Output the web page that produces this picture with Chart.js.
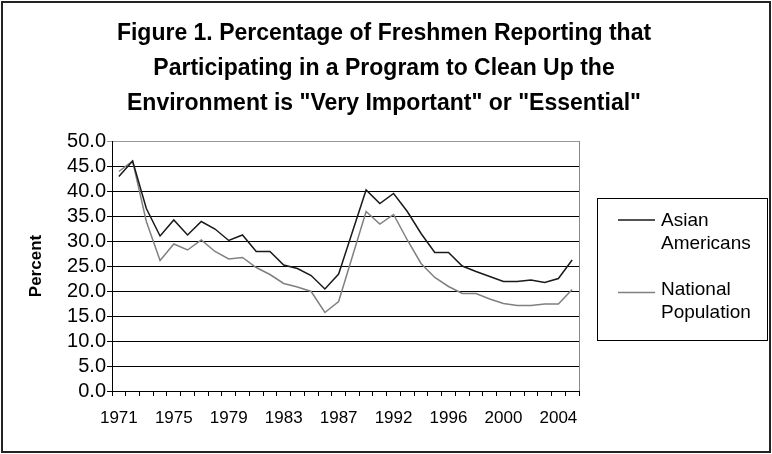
<!DOCTYPE html>
<html>
<head>
<meta charset="utf-8">
<script src="https://cdn.jsdelivr.net/npm/chart.js@4"></script>
<style>
  html, body { margin: 0; padding: 0; background: #fff; }
  #wrap { width: 772px; height: 454px; position: relative; }
</style>
</head>
<body>
<div id="wrap"><canvas id="chart" width="772" height="454"></canvas></div>
<script>
// survey years (one year between 1987 and 1992 is not in the series)
const years = ['1971','1972','1973','1974','1975','1976','1977','1978','1979','1980',
               '1981','1982','1983','1984','1985','1986','1987','1989','1990','1991',
               '1992','1993','1994','1995','1996','1997','1998','1999','2000','2001',
               '2002','2003','2004','2005'];

const asianAmericans = [42.9, 46.0, 36.5, 31.0, 34.2, 31.2, 33.9, 32.4, 30.1, 31.2,
                        27.9, 27.9, 25.2, 24.5, 23.1, 20.4, 23.4, 31.8, 40.2, 37.5,
                        39.5, 35.9, 31.5, 27.7, 27.7, 25.0, 23.9, 22.9, 21.9, 21.9,
                        22.2, 21.7, 22.5, 26.2];

const nationalPopulation = [43.9, 46.0, 33.9, 26.1, 29.4, 28.2, 30.2, 27.9, 26.4, 26.7,
                            24.7, 23.3, 21.5, 20.8, 19.9, 15.7, 17.9, 26.9, 35.9, 33.4,
                            35.3, 30.2, 25.5, 22.7, 20.9, 19.5, 19.5, 18.4, 17.5, 17.1,
                            17.1, 17.4, 17.4, 20.3];

const seriesNames = [['Asian', 'Americans'], ['National', 'Population']];
const seriesColors = ['#1a1a1a', '#808080'];

const titleLines = ['Figure 1. Percentage of Freshmen Reporting that',
                    'Participating in a Program to Clean Up the',
                    'Environment is "Very Important" or "Essential"'];

const FONT = '"Liberation Sans", Arial, sans-serif';

// frame, right border of the plot area and the boxed legend
const decorations = {
  id: 'decorations',
  afterDraw(chart) {
    const ctx = chart.ctx;
    const area = chart.chartArea;
    ctx.save();
    // right border of plot
    ctx.strokeStyle = '#888';
    ctx.lineWidth = 1;
    ctx.beginPath();
    ctx.moveTo(area.right + 0.5, area.top);
    ctx.lineTo(area.right + 0.5, area.bottom);
    ctx.stroke();

    // outer frame
    ctx.strokeStyle = '#222';
    ctx.lineWidth = 2;
    ctx.strokeRect(2, 2, 768, 450);

    // legend box
    const bx = area.right + 18, by = 198, bw = 170, bh = 142;
    ctx.strokeStyle = '#000';
    ctx.lineWidth = 1;
    ctx.strokeRect(bx + 0.5, by + 0.5, bw, bh);

    ctx.font = '19px ' + FONT;
    ctx.fillStyle = '#000';
    ctx.textBaseline = 'middle';
    ctx.textAlign = 'left';
    const entries = [{ lineY: 220, textY: [221, 244] }, { lineY: 292.5, textY: [290, 313] }];
    chart.data.datasets.forEach((ds, i) => {
      const e = entries[i];
      ctx.strokeStyle = ds.borderColor;
      ctx.lineWidth = 1.5;
      ctx.beginPath();
      ctx.moveTo(bx + 21, e.lineY);
      ctx.lineTo(bx + 58, e.lineY);
      ctx.stroke();
      ds.label.forEach((t, j) => ctx.fillText(t, bx + 64, e.textY[j]));
    });
    ctx.restore();
  }
};

const ctx = document.getElementById('chart').getContext('2d');
new Chart(ctx, {
  type: 'line',
  data: {
    labels: years,
    datasets: [
      { label: seriesNames[0], data: asianAmericans, borderColor: seriesColors[0], borderWidth: 1.5, pointRadius: 0, tension: 0, fill: false },
      { label: seriesNames[1], data: nationalPopulation, borderColor: seriesColors[1], borderWidth: 1.5, pointRadius: 0, tension: 0, fill: false }
    ]
  },
  options: {
    responsive: false,
    animation: false,
    layout: { padding: { left: 10, right: 14, top: 0, bottom: 20 } },
    plugins: {
      legend: { display: false },
      tooltip: { enabled: false },
      title: {
        display: true,
        text: titleLines,
        color: '#000',
        font: { family: FONT, size: 23, weight: 'bold', lineHeight: 35 / 23 },
        padding: { top: 16, bottom: 20 }
      }
    },
    scales: {
      x: {
        offset: true,
        border: { display: true, color: '#000', width: 1 },
        grid: { offset: true, drawOnChartArea: false, drawTicks: true, tickLength: 5, color: '#000' },
        ticks: {
          autoSkip: false,
          maxRotation: 0,
          padding: 12,
          color: '#000',
          font: { family: FONT, size: 17 },
          callback: function (val, idx) { return idx % 4 === 0 ? this.getLabelForValue(val) : ''; }
        },
        afterFit: (scale) => { scale.height = 43; }
      },
      y: {
        min: 0,
        max: 50,
        border: { display: true, color: '#000', width: 1 },
        grid: {
          color: (c) => (c.tick && c.tick.value === 50 ? '#999' : '#000'),
          tickLength: 5
        },
        ticks: {
          stepSize: 5,
          autoSkip: false,
          padding: 1,
          color: '#000',
          font: { family: FONT, size: 20 },
          callback: (v) => Number(v).toFixed(1)
        },
        title: {
          display: true,
          text: 'Percent',
          color: '#000',
          font: { family: FONT, size: 17, weight: 'bold' },
          padding: { top: 16, bottom: 0 }
        },
        afterFit: (scale) => { scale.width = 102; }
      },
      // empty axis that keeps room for the legend on the right
      legendRoom: {
        type: 'linear',
        position: 'right',
        display: true,
        border: { display: false },
        grid: { drawOnChartArea: false, drawTicks: false },
        ticks: { display: false },
        afterFit: (scale) => { scale.width = 179; }
      }
    }
  },
  plugins: [decorations]
});
</script>
</body>
</html>
